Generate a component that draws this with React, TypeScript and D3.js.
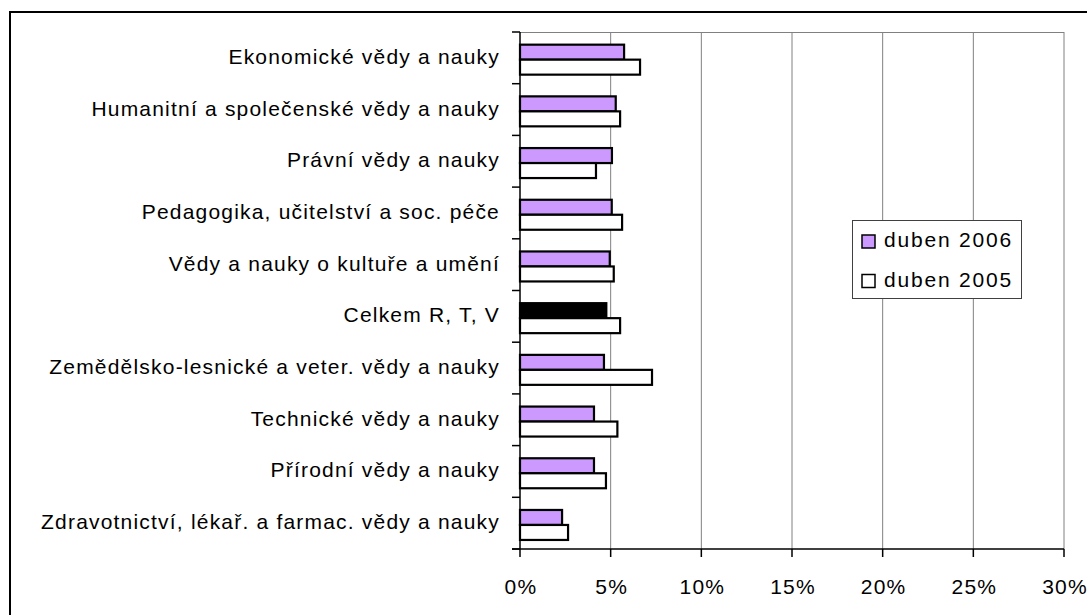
import React from "react";
import * as d3 from "d3";

const categories = [
  "Ekonomické vědy a nauky",
  "Humanitní a společenské vědy a nauky",
  "Právní vědy a nauky",
  "Pedagogika, učitelství a soc. péče",
  "Vědy a nauky o kultuře a umění",
  "Celkem R, T, V",
  "Zemědělsko-lesnické a veter. vědy a nauky",
  "Technické vědy a nauky",
  "Přírodní vědy a nauky",
  "Zdravotnictví, lékař. a farmac. vědy a nauky",
];
const duben2006 = [5.74, 5.28, 5.07, 5.06, 4.95, 4.76, 4.63, 4.08, 4.08, 2.32];
const duben2005 = [6.62, 5.52, 4.19, 5.63, 5.17, 5.52, 7.28, 5.37, 4.74, 2.65];
const xTicks = [0, 5, 10, 15, 20, 25, 30];
const seriesNames = ["duben 2006", "duben 2005"];
const highlight = "Celkem R, T, V";

const W = 1087;
const H = 615;
const FONT = "'Liberation Sans', Arial, sans-serif";
const PURPLE = "#CC99FF";

export default function App() {
  const left = 520;
  const right = 1064;
  const top = 32;
  const bottom = 549;
  const x = d3.scaleLinear().domain([0, 30]).range([left, right]);
  const y = d3.scaleBand<string>().domain(categories).range([top, bottom]);
  const bw = y.bandwidth();
  const barH = 0.29 * bw;
  const off = 0.245 * bw;

  return (
    <div style={{ position: "fixed", left: 0, top: 0 }}>
      <svg width={W} height={H} style={{ display: "block", background: "#fff" }}>
        <rect x={10} y={12} width={1200} height={800} fill="#fff" stroke="#000" strokeWidth={2} />
        {/* plot top border */}
        <line x1={left} x2={right} y1={top + 0.5} y2={top + 0.5} stroke="#808080" strokeWidth={1} />
        {/* gridlines */}
        {xTicks.filter((t) => t > 0).map((t) => (
          <line key={"g" + t} x1={x(t)} x2={x(t)} y1={top} y2={bottom} stroke="#808080" strokeWidth={1} />
        ))}
        {/* bars */}
        {categories.map((c, i) => {
          const y0 = (y(c) as number) + off;
          return (
            <g key={c}>
              <rect x={x(0)} y={y0} width={x(duben2006[i]) - x(0)} height={barH}
                fill={c === highlight ? "#000" : PURPLE} stroke="#000" strokeWidth={2.2} />
              <rect x={x(0)} y={y0 + barH} width={x(duben2005[i]) - x(0)} height={barH}
                fill="#fff" stroke="#000" strokeWidth={2.2} />
            </g>
          );
        })}
        {/* y axis */}
        <line x1={left} x2={left} y1={top} y2={bottom} stroke="#000" strokeWidth={1.5} />
        {categories.map((c) => (
          <line key={"t" + c} x1={left - 8} x2={left} y1={y(c) as number} y2={y(c) as number} stroke="#000" strokeWidth={1.5} />
        ))}
        <line x1={left - 8} x2={left} y1={bottom} y2={bottom} stroke="#000" strokeWidth={1.5} />
        {categories.map((c) => (
          <text key={"l" + c} x={500} y={(y(c) as number) + bw / 2 + 6} textAnchor="end"
            fontFamily={FONT} fontSize={21} letterSpacing={1.2} fill="#000">{c}</text>
        ))}
        {/* x axis */}
        <line x1={left - 8} x2={right} y1={bottom} y2={bottom} stroke="#000" strokeWidth={1.5} />
        {xTicks.map((t) => (
          <g key={"x" + t}>
            <line x1={x(t)} x2={x(t)} y1={bottom} y2={bottom + 8} stroke="#000" strokeWidth={1.5} />
            <text x={x(t) + 1} y={594} textAnchor="middle" fontFamily={FONT} fontSize={21}
              letterSpacing={1.2} fill="#000">{t + "%"}</text>
          </g>
        ))}
        {/* legend */}
        <rect x={852.5} y={220.5} width={169} height={78} fill="#fff" stroke="#404040" strokeWidth={1} />
        {seriesNames.map((s, i) => (
          <g key={s}>
            <rect x={862} y={235 + i * 39.5} width={13} height={13}
              fill={i === 0 ? PURPLE : "#fff"} stroke="#000" strokeWidth={1.5} />
            <text x={884} y={247 + i * 39.5} fontFamily={FONT} fontSize={21} letterSpacing={1.8} fill="#000">{s}</text>
          </g>
        ))}
      </svg>
    </div>
  );
}
